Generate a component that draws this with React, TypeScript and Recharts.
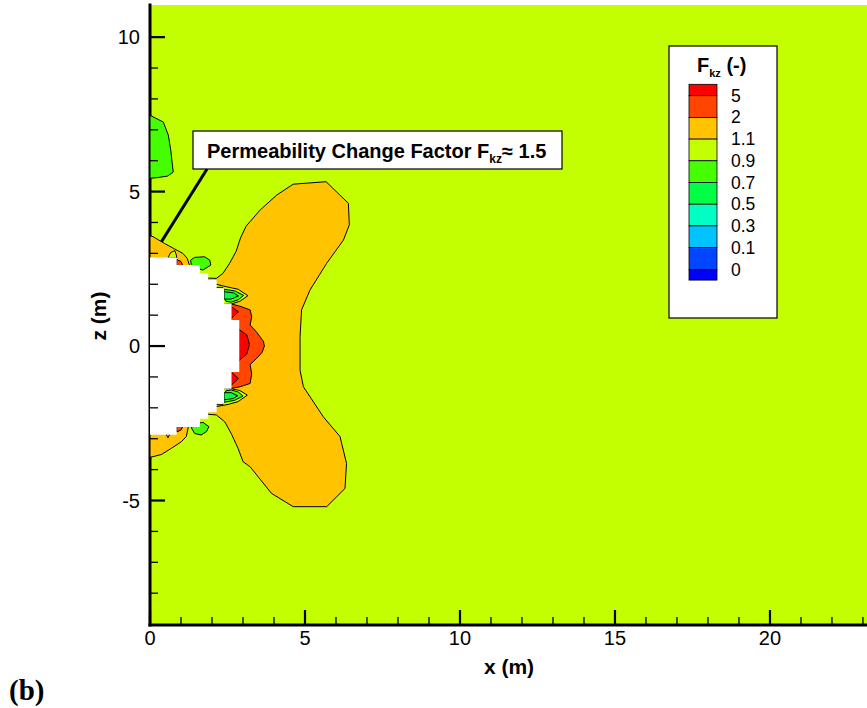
import React from "react";
import { ScatterChart, Scatter, XAxis, YAxis, CartesianGrid, ReferenceLine } from "recharts";

// chart frame
const W = 867;
const H = 708;
const PLOT_LEFT = 150;
const PLOT_BOTTOM = 625;
const X_MAX = 23.13;
const Z_MIN = -9.03;
const Z_MAX = 11.04;

const X_TICKS = [0, 1, 2, 3, 4, 5, 6, 7, 8, 9, 10, 11, 12, 13, 14, 15, 16, 17, 18, 19, 20, 21, 22, 23];
const Z_TICKS = [-8, -7, -6, -5, -4, -3, -2, -1, 0, 1, 2, 3, 4, 5, 6, 7, 8, 9, 10];

// contour colours (Fkz levels)
const C_RED = "#ff0000";
const C_RED_ORANGE = "#ff4500";
const C_ORANGE = "#ffc300";
const C_BASE = "#c3ff00";
const C_GREEN = "#45ff00";
const C_GREEN2 = "#00ff45";

const LEGEND_LABELS = ["5", "2", "1.1", "0.9", "0.7", "0.5", "0.3", "0.1", "0"];
const LEGEND_COLORS = ["#ff0000", "#ff4500", "#ffc300", "#c3ff00", "#45ff00", "#00ff45", "#00ffc3", "#00c3ff", "#0045ff", "#0000ff"];

// contour polygons, [x (m), z (m)]
const MAIN_ORANGE: [number, number][] = [
  [1.85, 2.1], [1.87, 2.2], [2.14, 2.19], [2.35, 2.35], [2.57, 2.68], [2.78, 3.07], [2.92, 3.5],
  [3.1, 3.88], [3.55, 4.4], [4.09, 4.89], [4.62, 5.24], [5.68, 5.32], [6.4, 4.62], [6.43, 3.92],
  [6.24, 3.43], [5.7, 2.68], [5.16, 1.81], [4.89, 1.17], [4.84, 0.3], [4.84, -0.78], [4.95, -1.32],
  [5.59, -2.29], [6.13, -2.93], [6.34, -3.8], [6.29, -4.61], [5.7, -5.2], [4.62, -5.2], [3.92, -4.77],
  [3.23, -3.91], [3.0, -3.74], [2.84, -3.31], [2.62, -2.83], [2.41, -2.45], [2.14, -2.23],
  [1.87, -2.21], [1.85, -2.1],
];
const TOP_LEFT_ORANGE: [number, number][] = [
  [0, 3.57], [0.1, 3.54], [0.47, 3.32], [0.8, 3.14], [1.06, 3.0], [1.2, 2.84], [1.28, 2.6], [1.2, 2.45], [0, 2.45],
];
const BOTTOM_LEFT_ORANGE: [number, number][] = [
  [0, -2.45], [1.2, -2.45], [1.23, -2.66], [1.17, -2.93], [1.01, -3.1], [0.69, -3.31], [0.37, -3.51], [0.1, -3.58], [0, -3.6],
];
const TOP_LEFT_LOOP: [number, number][] = [[0.58, 2.85], [0.66, 3.02], [0.8, 3.09], [0.85, 2.95], [0.86, 2.85]];
const BOTTOM_LEFT_LOOP: [number, number][] = [[0.52, -2.86], [0.58, -2.97], [0.64, -2.86]];
const NOTCH_GREEN_TOP: [number, number][] = [
  [1.31, 2.78], [1.44, 2.87], [1.76, 2.89], [1.93, 2.78], [1.96, 2.62], [1.71, 2.46], [1.49, 2.53], [1.33, 2.64],
];
const NOTCH_GREEN_BOTTOM: [number, number][] = [
  [1.33, -2.64], [1.55, -2.5], [1.71, -2.47], [1.9, -2.61], [1.82, -2.77], [1.65, -2.88], [1.44, -2.83],
];
const UPPER_SPIKE: [number, number][] = [
  [2.1, 2.02], [2.14, 2.0], [2.46, 1.92], [2.84, 1.84], [3.16, 1.63], [2.9, 1.45], [2.62, 1.36], [2.35, 1.36], [2.35, 1.9], [2.1, 1.9],
];
const UPPER_SPIKE_GREEN: [number, number][] = [
  [2.39, 1.84], [2.75, 1.78], [3.02, 1.64], [2.85, 1.5], [2.62, 1.42], [2.45, 1.45], [2.39, 1.6],
];
const UPPER_SPIKE_CORE: [number, number][] = [[2.39, 1.76], [2.7, 1.72], [2.85, 1.62], [2.62, 1.52], [2.39, 1.52]];
const LOWER_SPIKE: [number, number][] = [
  [2.1, -2.0], [2.14, -1.96], [2.52, -1.89], [2.84, -1.8], [3.14, -1.59], [2.9, -1.44], [2.62, -1.38], [2.35, -1.38], [2.35, -1.9], [2.1, -1.9],
];
const LOWER_SPIKE_GREEN: [number, number][] = [
  [2.39, -1.82], [2.72, -1.76], [3.0, -1.62], [2.85, -1.49], [2.62, -1.42], [2.45, -1.45], [2.39, -1.58],
];
const LOWER_SPIKE_CORE: [number, number][] = [[2.39, -1.74], [2.68, -1.7], [2.83, -1.61], [2.62, -1.51], [2.39, -1.51]];
const RED_BAND: [number, number][] = [
  [2.45, 1.36], [2.63, 1.36], [2.9, 1.29], [3.23, 1.17], [3.28, 0.95], [3.23, 0.68], [3.44, 0.45], [3.66, 0.15],
  [3.69, 0.0], [3.62, -0.2], [3.44, -0.4], [3.23, -0.6], [3.28, -0.9], [3.23, -1.21], [2.9, -1.32], [2.63, -1.37], [2.45, -1.37],
];
const RED_CORE: [number, number][] = [[2.75, 0.54], [2.88, 0.53], [3.12, 0.36], [3.21, 0.05], [3.12, -0.26], [2.88, -0.46], [2.75, -0.46]];
const RED_TIP_TOP: [number, number][] = [[2.55, 1.27], [2.63, 1.27], [2.85, 1.11], [2.63, 0.9], [2.55, 0.9]];
const RED_TIP_BOTTOM: [number, number][] = [[2.55, -0.85], [2.63, -0.85], [2.85, -1.05], [2.63, -1.26], [2.55, -1.26]];
const RED_BIT_TOP: [number, number][] = [[0.86, 2.8], [1.0, 2.74], [1.06, 2.6], [0.86, 2.6]];
const RED_BIT_BOTTOM: [number, number][] = [[0.86, -2.6], [1.06, -2.6], [1.0, -2.72], [0.86, -2.78]];
const TOP_LEFT_GREEN: [number, number][] = [
  [0, 7.47], [0.43, 7.25], [0.59, 6.83], [0.67, 6.34], [0.75, 5.63], [0.56, 5.5], [0.22, 5.45], [0, 5.43],
];
// excavated zone (no data)
const CAVITY: [number, number][] = [
  [0, 2.87], [0.86, 2.87], [0.86, 2.62], [1.61, 2.62], [1.61, 2.35], [1.88, 2.35], [1.88, 2.14], [2.15, 2.14],
  [2.15, 1.87], [2.39, 1.87], [2.39, 1.38], [2.63, 1.38], [2.63, 0.84], [2.88, 0.84], [2.88, -0.84], [2.63, -0.84],
  [2.63, -1.38], [2.39, -1.38], [2.39, -1.87], [2.15, -1.87], [2.15, -2.14], [1.88, -2.14], [1.88, -2.35],
  [1.61, -2.35], [1.61, -2.62], [0.86, -2.62], [0.86, -2.87], [0, -2.87],
];

const LEADER: [number, number][] = [[1.84, 5.73], [0.14, 3.01]];

const LAYERS: { name: string; pts: [number, number][]; fill: string; edge: boolean }[] = [
  { name: "main", pts: MAIN_ORANGE, fill: C_ORANGE, edge: true },
  { name: "tl-orange", pts: TOP_LEFT_ORANGE, fill: C_ORANGE, edge: true },
  { name: "bl-orange", pts: BOTTOM_LEFT_ORANGE, fill: C_ORANGE, edge: true },
  { name: "tl-loop", pts: TOP_LEFT_LOOP, fill: C_BASE, edge: true },
  { name: "bl-loop", pts: BOTTOM_LEFT_LOOP, fill: C_ORANGE, edge: true },
  { name: "notch-top", pts: NOTCH_GREEN_TOP, fill: C_GREEN, edge: true },
  { name: "notch-bottom", pts: NOTCH_GREEN_BOTTOM, fill: C_GREEN, edge: true },
  { name: "spike-top", pts: UPPER_SPIKE, fill: C_BASE, edge: true },
  { name: "spike-top-g", pts: UPPER_SPIKE_GREEN, fill: C_GREEN, edge: true },
  { name: "spike-top-c", pts: UPPER_SPIKE_CORE, fill: C_GREEN2, edge: true },
  { name: "spike-bottom", pts: LOWER_SPIKE, fill: C_BASE, edge: true },
  { name: "spike-bottom-g", pts: LOWER_SPIKE_GREEN, fill: C_GREEN, edge: true },
  { name: "spike-bottom-c", pts: LOWER_SPIKE_CORE, fill: C_GREEN2, edge: true },
  { name: "red-band", pts: RED_BAND, fill: C_RED_ORANGE, edge: true },
  { name: "red-core", pts: RED_CORE, fill: C_RED, edge: true },
  { name: "red-tip-top", pts: RED_TIP_TOP, fill: C_RED, edge: true },
  { name: "red-tip-bottom", pts: RED_TIP_BOTTOM, fill: C_RED, edge: true },
  { name: "red-bit-top", pts: RED_BIT_TOP, fill: C_RED_ORANGE, edge: true },
  { name: "red-bit-bottom", pts: RED_BIT_BOTTOM, fill: C_RED_ORANGE, edge: true },
  { name: "tl-green", pts: TOP_LEFT_GREEN, fill: C_GREEN, edge: true },
  { name: "cavity", pts: CAVITY, fill: "#ffffff", edge: false },
];

const FONT = "'Liberation Sans', Arial, Helvetica, sans-serif";

// closed ring of points for the scatter line
const ring = (pts: [number, number][]) => [...pts, pts[0]].map(([x, z]) => ({ x, z }));

const XTick = (props: any) => {
  const { x, payload } = props;
  const v = payload.value as number;
  const major = v % 5 === 0;
  return (
    <g>
      <line x1={x} x2={x} y1={PLOT_BOTTOM} y2={PLOT_BOTTOM - (major ? 15 : 8)} stroke="#000" strokeWidth={major ? 2.2 : 1.3} />
      {major && (
        <text x={x} y={PLOT_BOTTOM + 20} textAnchor="middle" fontSize={20} fontFamily={FONT} fill="#000">
          {v}
        </text>
      )}
    </g>
  );
};

const YTick = (props: any) => {
  const { y, payload } = props;
  const v = payload.value as number;
  const major = v % 5 === 0;
  return (
    <g>
      <line x1={PLOT_LEFT} x2={PLOT_LEFT + (major ? 15 : 8)} y1={y} y2={y} stroke="#000" strokeWidth={major ? 2.2 : 1.3} />
      {major && (
        <text x={PLOT_LEFT - 10} y={y} dy={7} textAnchor="end" fontSize={20} fontFamily={FONT} fill="#000">
          {v}
        </text>
      )}
    </g>
  );
};

function ColorBar() {
  const x = 689;
  const w = 28;
  const top = 84.3;
  const rows = [11.4, 21.7, 21.7, 21.7, 21.7, 21.7, 21.7, 21.7, 22.2, 10.3];
  let y = top;
  const bands = rows.map((h, i) => {
    const r = { y, h, color: LEGEND_COLORS[i] };
    y += h;
    return r;
  });
  return (
    <g>
      <rect x={669} y={46} width={108} height={272} fill="#fff" stroke="#000" strokeWidth={1.2} />
      <text x={697} y={72} fontFamily={FONT} fontWeight="bold" fontSize={20} fill="#000">
        F<tspan fontSize={11} dy={5}>kz</tspan>
        <tspan dy={-5}> (-)</tspan>
      </text>
      {bands.map((b, i) => (
        <rect key={i} x={x} y={b.y} width={w} height={b.h} fill={b.color} stroke="#000" strokeWidth={0.8} />
      ))}
      {LEGEND_LABELS.map((t, i) => (
        <text key={t} x={731} y={bands[i + 1].y + 6} fontFamily={FONT} fontSize={17.5} fill="#000">
          {t}
        </text>
      ))}
    </g>
  );
}

export default function App() {
  return (
    <div style={{ position: "relative", width: W, height: H, background: "#fff" }}>
      <style>{"body{margin:0}"}</style>
      <ScatterChart width={W} height={H} margin={{ top: 5, right: 0, bottom: 53, left: 90 }}>
        <CartesianGrid fill={C_BASE} horizontal={false} vertical={false} />
        {LAYERS.map((l) => (
          <Scatter
            key={l.name}
            data={ring(l.pts)}
            fill={l.fill}
            isAnimationActive={false}
            line={{ fill: l.fill, stroke: l.edge ? "#000" : "none", strokeWidth: 1, strokeLinejoin: "round" }}
            lineType="joint"
            lineJointType="linear"
            shape={() => null}
          />
        ))}
        <ReferenceLine
          segment={[{ x: LEADER[0][0], y: LEADER[0][1] }, { x: LEADER[1][0], y: LEADER[1][1] }]}
          stroke="#000"
          strokeWidth={3}
        />
        <XAxis
          type="number"
          dataKey="x"
          domain={[0, X_MAX]}
          ticks={X_TICKS}
          interval={0}
          allowDataOverflow
          height={30}
          tickLine={false}
          tick={(p: any) => <XTick {...p} />}
          axisLine={{ stroke: "#000", strokeWidth: 3, strokeLinecap: "square" }}
        />
        <YAxis
          type="number"
          dataKey="z"
          domain={[Z_MIN, Z_MAX]}
          ticks={Z_TICKS}
          interval={0}
          allowDataOverflow
          width={60}
          tickLine={false}
          tick={(p: any) => <YTick {...p} />}
          axisLine={{ stroke: "#000", strokeWidth: 3, strokeLinecap: "square" }}
        />
      </ScatterChart>
      <svg width={W} height={H} style={{ position: "absolute", left: 0, top: 0, pointerEvents: "none" }}>
        <ColorBar />
        <rect x={193} y={131} width={369} height={38} fill="#fff" stroke="#000" strokeWidth={1.2} />
        <text x={207} y={158} fontFamily={FONT} fontWeight="bold" fontSize={20} fill="#000">
          Permeability Change Factor F<tspan fontSize={12} dy={5}>kz</tspan>
          <tspan dy={-5}>≈ 1.5</tspan>
        </text>
        <text x={509} y={674} textAnchor="middle" fontFamily={FONT} fontWeight="bold" fontSize={21} fill="#000">
          x (m)
        </text>
        <text
          x={99}
          y={316}
          textAnchor="middle"
          transform="rotate(-90 99 316)"
          dy={7}
          fontFamily={FONT}
          fontWeight="bold"
          fontSize={21}
          fill="#000"
        >
          z (m)
        </text>
        <text x={9} y={700} fontFamily="'Liberation Serif', 'Times New Roman', serif" fontWeight="bold" fontSize={29} fill="#000">
          (b)
        </text>
      </svg>
    </div>
  );
}
